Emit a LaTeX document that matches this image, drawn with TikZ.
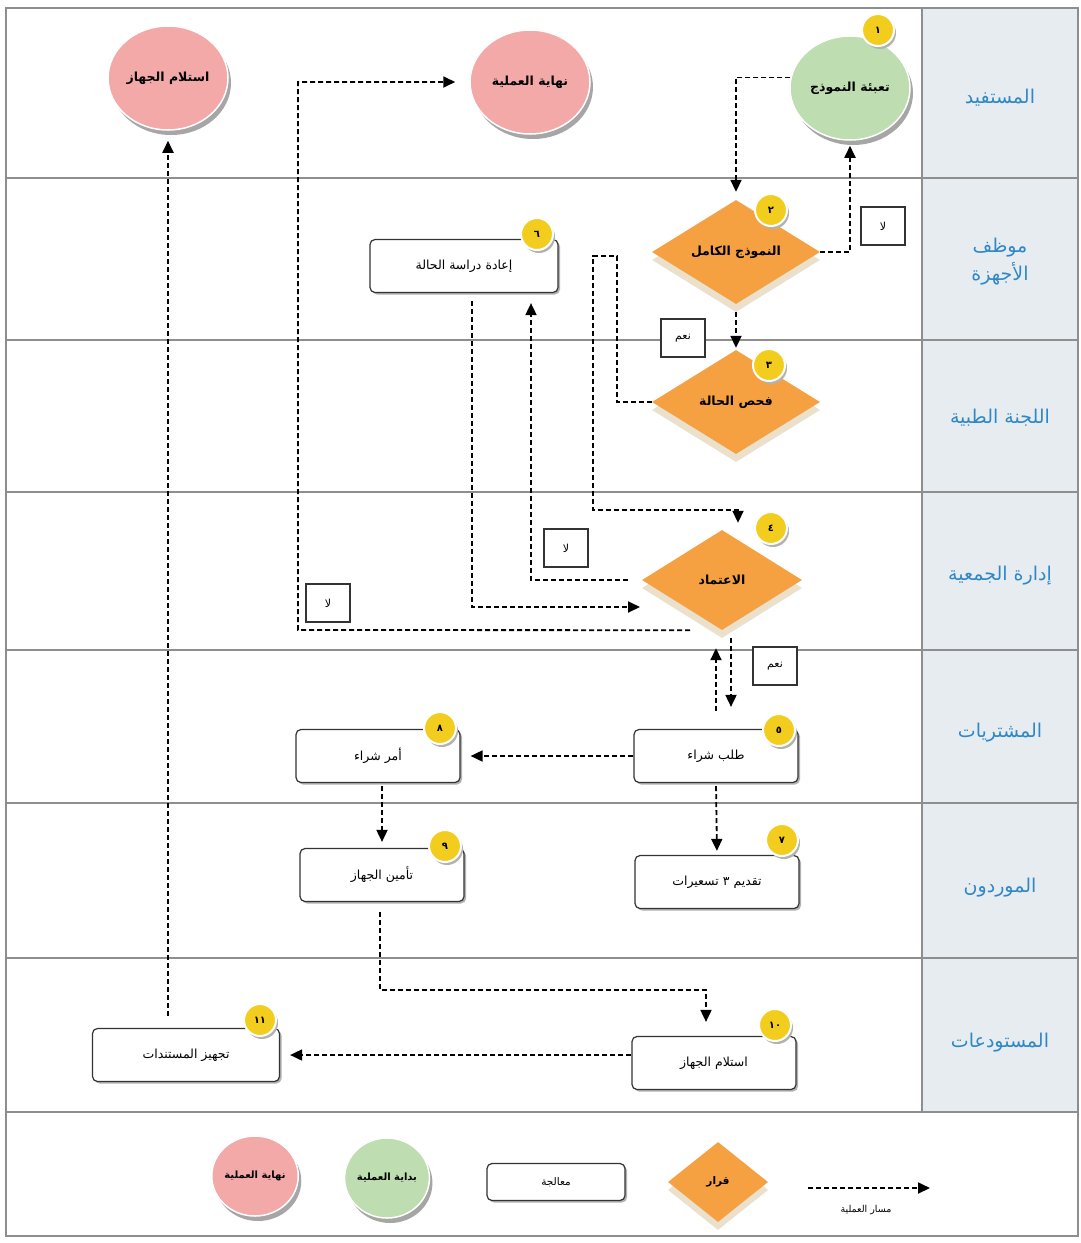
\documentclass[tikz,border=0pt]{standalone}
\usepackage{fontspec}
\TeXXeTstate=1
\newfontfamily\arabicfont[Script=Arabic]{DejaVu Sans}
\usetikzlibrary{shapes.geometric,arrows.meta,shadows,calc}
\newcommand{\rtl}[1]{\beginR #1\endR}
\definecolor{orng}{HTML}{F5A142}
\definecolor{grn}{HTML}{BEDDB0}
\definecolor{pnk}{HTML}{F4A9A9}
\definecolor{yel}{HTML}{F2CD1E}
\definecolor{colbg}{HTML}{E7ECF0}
\definecolor{labblue}{HTML}{2F88C6}
\definecolor{laneg}{HTML}{8E8E8E}
\definecolor{cream}{HTML}{EAE0CC}
\begin{document}
\begin{tikzpicture}[x=1pt,y=-1pt,
  lane/.style={draw=laneg, line width=1.5pt},
  proc/.style={draw=black!80, line width=1.2pt, rounded corners=5pt, fill=white,
    minimum width=164pt, minimum height=53pt, inner sep=2pt,
    font=\arabicfont\fontsize{12.5}{14}\selectfont,
    drop shadow={shadow xshift=2pt, shadow yshift=-2pt, fill=black!30, opacity=1}},
  dec/.style={diamond, aspect=1.6, fill=orng, minimum width=168pt, minimum height=104pt,
    inner sep=0pt, font=\arabicfont\bfseries\fontsize{12.5}{14}\selectfont,
    drop shadow={shadow xshift=0pt, shadow yshift=-8pt, fill=cream, opacity=1}},
  term/.style={ellipse, minimum width=120pt, minimum height=104pt, inner sep=0pt,
    draw=white, line width=1.5pt, font=\arabicfont\bfseries\fontsize{12.5}{14}\selectfont,
    drop shadow={shadow xshift=3pt, shadow yshift=-5pt, fill=black!35, opacity=1}},
  badge/.style={circle, fill=yel, draw=white, line width=2pt, minimum size=32pt, inner sep=0pt,
    font=\arabicfont\bfseries\fontsize{10}{12}\selectfont,
    drop shadow={shadow xshift=2pt, shadow yshift=-3pt, fill=black!30, opacity=1}},
  lbl/.style={draw=black!80, line width=1.2pt, fill=white, minimum width=44pt, minimum height=38pt,
    inner sep=0pt, font=\arabicfont\fontsize{11}{12}\selectfont},
  lanelab/.style={text=labblue, align=center, font=\arabicfont\fontsize{19}{28}\selectfont},
  flow/.style={line width=1.8pt, dash pattern=on 5pt off 3pt, -{Triangle[length=12pt,width=11pt]}}
]
\useasboundingbox (0,0) rectangle (1081,1243);
\fill[white] (0,0) rectangle (1081,1243);
% label column
\fill[colbg] (922,8) rectangle (1078,1112);
% frame and lanes
\draw[lane] (6,8) rectangle (1078,1236);
\foreach \yy in {178,340,492,650,803,958,1112}
  \draw[lane] (6,\yy) -- (1078,\yy);
\draw[lane] (922,8) -- (922,1112);
% lane labels
\node[lanelab] (lab1) at (1000,98) {\rtl{المستفيد}};
\node[lanelab] (lab2) at (1000,262) {\rtl{موظف}\\\rtl{الأجهزة}};
\node[lanelab] (lab3) at (1000,418) {\rtl{اللجنة الطبية}};
\node[lanelab] (lab4) at (1000,576) {\rtl{إدارة الجمعية}};
\node[lanelab] (lab5) at (1000,733) {\rtl{المشتريات}};
\node[lanelab] (lab6) at (1000,888) {\rtl{الموردون}};
\node[lanelab] (lab7) at (1000,1043) {\rtl{المستودعات}};

% terminals
\node[term, fill=grn] (c1) at (850,88) {\rtl{تعبئة النموذج}};
\node[term, fill=pnk] (cend) at (530,82) {\rtl{نهاية العملية}};
\node[term, fill=pnk] (cr) at (168,78) {\rtl{استلام الجهاز}};
% decisions
\node[dec] (d2) at (736,252) {\rtl{النموذج الكامل}};
\node[dec] (d3) at (736,402) {\rtl{فحص الحالة}};
\node[dec, minimum width=160pt, minimum height=100pt] (d4) at (722,580) {\rtl{الاعتماد}};
% processes
\node[proc, minimum width=188pt] (b6) at (464,266) {\rtl{إعادة دراسة الحالة}};
\node[proc] (b5) at (716,756) {\rtl{طلب شراء}};
\node[proc] (b8) at (378,756) {\rtl{أمر شراء}};
\node[proc] (b7) at (717,882) {\rtl{تقديم ٣ تسعيرات}};
\node[proc] (b9) at (382,875) {\rtl{تأمين الجهاز}};
\node[proc] (b10) at (714,1063) {\rtl{استلام الجهاز}};
\node[proc, minimum width=187pt] (b11) at (186,1055) {\rtl{تجهيز المستندات}};

% connectors
\coordinate (r1) at (617,256);
\coordinate (r2) at (593,510);
\coordinate (fend) at (640,607);
\coordinate (gturn) at (298,630);
\coordinate (lturn) at (706,990);
\draw[flow, shorten >=8pt] (c1.170) -| (d2.north);
\draw[flow, shorten >=5pt] (d2.east) -| (c1.south);
\draw[flow, shorten <=8pt, shorten >=2pt] (d2.south) -- (d3.north);
\draw[flow, shorten >=7pt] (d3.west) -| (r1) -| (r2) -| ($(d4.north)+(16,0)$);
\draw[flow, shorten <=14pt, shorten >=10pt] (d4.west) -| ($(b6.south)+(67,0)$);
\draw[flow, shorten <=8pt] ($(b6.south)+(8,0)$) |- (fend);
\draw[flow, shorten >=14pt] ($(d4.south)+(-32,0)$) -- (gturn) |- (cend.west);
\draw[flow] ($(d4.south)+(9,8)$) -- ($(b5.north)+(15,-22)$);
\draw[flow] ($(b5.north)+(0,-18)$) -- ($(d4.south)+(-6,18)$);
\draw[flow, shorten >=10pt] (b5.west) -- (b8.east);
\draw[flow, shorten <=3pt, shorten >=4pt] (b5.south) -- (b7.north);
\draw[flow, shorten <=3pt, shorten >=6pt] (b9.north |- b8.south) -- (b9.north);
\draw[flow, shorten <=10pt] ($(b9.south)+(-2,0)$) |- (lturn) -- ($(b10.north)+(-8,-14)$);
\draw[flow, shorten >=10pt] (b11.east -| b10.west) -- (b11.east);
\draw[flow, shorten <=12pt, shorten >=10pt] (cr.south |- b11.north) -- (cr.south);

% edge labels
\node[lbl] (l1) at (883,226) {\rtl{لا}};
\node[lbl] (l2) at (683,338) {\rtl{نعم}};
\node[lbl] (l3) at (566,548) {\rtl{لا}};
\node[lbl] (l4) at (328,603) {\rtl{لا}};
\node[lbl] (l5) at (775,666) {\rtl{نعم}};

% badges
\node[badge] (g1) at (878,30) {١};
\node[badge] (g2) at (771,210) {٢};
\node[badge] (g3) at (769,365) {٣};
\node[badge] (g4) at (771,528) {٤};
\node[badge] (g5) at (779,730) {٥};
\node[badge] (g6) at (537,234) {٦};
\node[badge] (g7) at (782,840) {٧};
\node[badge] (g8) at (440,728) {٨};
\node[badge] (g9) at (445,846) {٩};
\node[badge] (g10) at (775,1025) {١٠};
\node[badge] (g11) at (260,1020) {١١};

% legend
\node[term, fill=pnk, minimum width=68pt, minimum height=80pt, font=\arabicfont\bfseries\fontsize{10}{12}\selectfont] (lend) at (255,1176) {\rtl{نهاية العملية}};
\node[term, fill=grn, minimum width=68pt, minimum height=80pt, font=\arabicfont\bfseries\fontsize{10}{12}\selectfont] (lstart) at (387,1178) {\rtl{بداية العملية}};
\node[proc, minimum width=138pt, minimum height=37pt, font=\arabicfont\fontsize{10.5}{12}\selectfont] (lproc) at (556,1182) {\rtl{معالجة}};
\node[dec, minimum width=100pt, minimum height=80pt, font=\arabicfont\bfseries\fontsize{10.5}{12}\selectfont] (ldec) at (718,1182) {\rtl{قرار}};
\coordinate (la) at (808,1188);
\coordinate (lb) at (930,1188);
\draw[flow] (la) -- (lb);
\node[font=\arabicfont\fontsize{9.5}{11}\selectfont] (ltxt) at (866,1210) {\rtl{مسار العملية}};
\end{tikzpicture}
\end{document}
